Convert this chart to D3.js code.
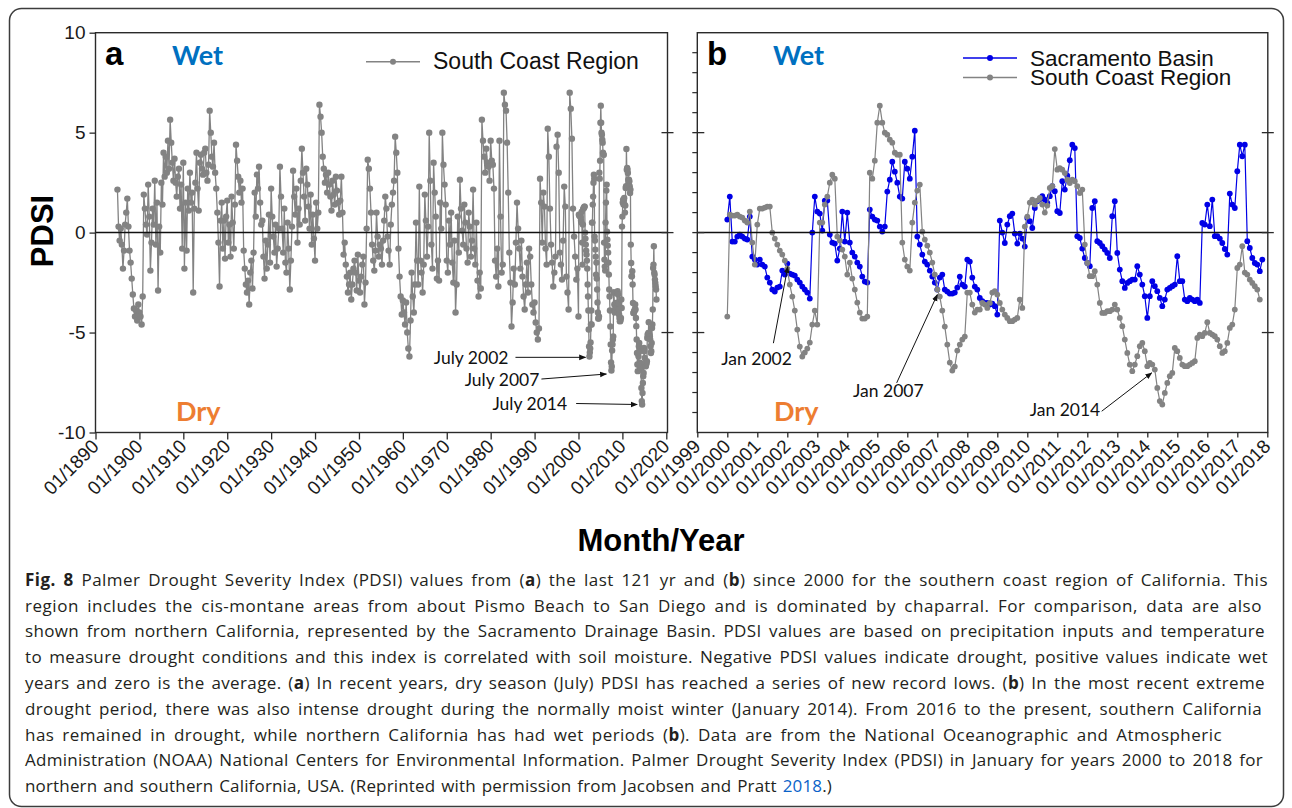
<!DOCTYPE html>
<html><head><meta charset="utf-8">
<script src="https://cdn.jsdelivr.net/npm/d3@7"></script>
<style>body{margin:0;background:#fff}svg{display:block}</style>
</head><body>
<svg id="chart" width="1292" height="808"></svg>
<script>
// ================= DATA =================
// Panel a: South Coast Region PDSI, quarterly readings (Jan, Apr, Jul, Oct) 1895-1999
const quarterlyStartYear = 1895;
const southCoastQuarterly = [
 2.15,0.3,-0.4,0.2, -0.6,-1.8,-0.9,0.4, 1.0,1.7,0.3,-0.9, -1.5,-2.3,-3.1,-3.8, -4.2,-3.9,-4.4,-3.6,
 -4.0,-4.2,-4.6,-3.2, 1.9,1.2,0.4,-0.1, 2.4,0.8,-1.9,-0.5, 1.2,0.4,2.6,-0.6, 1.5,-2.9,0.3,-1.0,
 2.5,1.4,4.0,2.8, 3.8,3.0,4.6,3.2, 5.65,4.5,3.5,2.6, 3.7,2.5,1.8,2.8, 3.2,1.2,2.4,-0.8,
 3.5,-1.8,1.5,-0.9, 2.2,1.1,3.0,1.5, 2.0,-3.0,1.2,2.5, 4.0,2.2,1.1,3.5, 3.9,3.2,2.9,4.0,
 4.2,3.0,2.6,3.4, 6.1,5.0,3.8,3.3, 4.5,3.0,2.2,1.0, -0.5,-2.7,0.6,1.5, -0.8,0.6,-1.3,0.8,
 1.6,-0.5,0.4,-1.2, 1.8,0.5,-0.8,1.4, 4.4,3.6,2.8,2.0, 2.6,1.5,2.2,-0.9, -1.8,-2.6,-3.0,-2.4,
 -3.6,-2.0,-1.4,-2.8, -1.0,2.0,0.8,2.9, 2.2,3.3,1.5,0.4, 0.6,-1.2,-2.3,-0.4, -1.8,-0.6,0.9,-1.5,
 2.2,0.8,-0.2,-1.0, 0.4,-1.7,-0.8,0.2, 3.3,1.8,0.2,-1.0, 1.2,-1.5,-2.0,0.5, -0.8,-2.85,-1.4,0.3,
 3.1,1.8,0.9,2.2, -0.5,1.2,0.4,2.6, 4.2,3.0,1.8,0.6, 3.2,2.4,1.3,0.2, 1.9,-0.6,0.9,-0.3,
 -1.4,1.5,0.2,1.0, 6.4,5.8,5.0,3.8, 3.2,2.5,2.9,2.0, 3.0,2.4,1.8,1.1, 2.6,1.9,1.4,2.8,
 2.1,1.5,0.9,1.6, 2.8,1.0,-1.1,-0.5, -1.6,-2.2,-3.0,-2.6, -2.0,-3.35,-2.6,-1.8, -1.4,-2.0,-2.9,-1.1,
 -2.4,-3.0,-2.2,-1.6, -1.2,-3.6,-2.5,0.2, 3.65,3.2,2.2,1.0, -0.6,-1.4,-1.9,-0.9, 1.0,-0.2,-1.2,-0.6,
 -0.8,-1.6,-0.4,0.6, 1.8,1.2,-0.2,-0.9, -1.6,0.4,1.4,2.0, 2.6,4.8,4.0,3.0, -0.8,-2.2,-3.2,-4.1,
 -3.4,-4.0,-4.6,-3.5, -5.0,-5.8,-6.2,-4.4, -2.0,-3.2,-4.0,-2.6, 0.5,-1.4,-2.6,2.3, -1.4,-2.0,-3.0,-1.6,
 1.9,0.6,-1.2,0.3, 5.0,2.6,-0.6,-1.8, 3.5,2.0,0.8,-2.3, -1.4,-2.4,1.5,0.2, 5.0,3.4,2.4,1.4,
 -1.4,-2.0,0.6,-0.6, 1.0,-1.5,-2.5,-0.4, -4.0,-2.6,0.8,-1.0, 2.65,1.2,0.1,-0.6, 1.4,0.5,-0.8,-1.5,
 1.0,0.3,-1.2,-0.4, 2.15,-0.8,-1.6,0.5, -2.4,-3.2,-2.0,-2.8, 5.65,4.6,3.8,3.0, 4.2,3.5,3.3,2.6,
 4.6,3.6,3.4,2.2, -1.4,-2.2,-0.8,-2.7, 4.6,0.8,-2.0,-1.6, 7.0,6.4,6.1,4.5, 2.0,-1.0,-2.5,-4.7,
 -3.5,-1.8,-2.6,-0.5, 1.5,0.2,-0.8,-1.8, -0.4,-2.2,-3.2,-3.85, -2.6,-1.5,-3.0,-0.8, -1.2,-2.6,-3.6,-4.0,
 -3.5,-4.5,-5.0,-5.35, -4.8,2.7,1.5,-0.5, 2.0,1.3,-0.8,-1.6, 5.2,3.8,1.2,-0.6, -1.5,-2.7,-2.0,-1.2,
 4.3,4.9,3.0,-1.0, -1.6,-2.35,-0.4,2.3, 1.3,-2.2,-3.0,-3.85, 7.0,6.2,4.7,1.2, -0.2,-1.2,-2.35,-1.8
];
// Monthly PDSI, Jan 2000 onward
const monthlyStartYear = 2000;
const southCoastMonthly = [
 -4.2,0.9,0.85,0.85,0.9,0.8,0.75,0.6,0.5,1.05,-0.5,-1.6,
 0.4,1.2,1.2,1.25,1.3,1.3,0.0,-0.3,-0.6,-0.9,-1.1,-1.4,
 -1.8,-2.6,-3.2,-3.9,-4.85,-5.7,-6.2,-6.0,-5.8,-5.5,-4.6,-3.9,
 -4.6,0.5,0.5,1.4,1.8,2.5,2.9,2.7,-0.2,-0.4,-0.85,-1.2,
 -2.1,-1.5,-2.3,-2.85,-3.5,-4.0,-4.3,-4.3,-4.2,3.0,2.7,3.6,
 5.5,6.35,5.5,5.0,4.9,4.65,4.5,4.0,3.9,3.9,-0.5,-1.35,
 -1.7,-1.9,0.5,1.5,2.1,2.4,0.05,-0.35,-0.65,-1.0,-1.5,-2.1,
 -2.85,-3.2,-3.9,-4.7,-5.6,-6.5,-6.9,-6.7,-5.9,-5.6,-5.35,-5.2,
 -3.0,-3.0,-3.6,-4.0,-3.85,-3.85,-3.52,-3.6,-3.77,-3.52,-3.0,-2.93,
 -3.1,-3.52,-3.85,-4.1,-4.27,-4.43,-4.43,-4.35,-4.27,-3.35,-3.77,0.3,
 0.8,1.5,1.65,1.4,1.6,1.73,1.4,1.0,1.35,2.23,2.32,4.18,
 3.15,3.23,3.15,2.98,2.65,2.48,2.65,2.57,2.32,1.98,2.15,-0.6,
 -1.52,-2.18,-2.18,-1.93,-2.6,-3.52,-4.02,-4.02,-3.93,-3.93,-3.85,-3.6,
 -3.85,-4.27,-4.68,-5.35,-6.02,-6.6,-6.93,-6.6,-6.18,-5.68,-5.52,-5.93,
 -6.68,-6.52,-6.6,-6.85,-7.77,-8.43,-8.6,-8.02,-7.52,-7.18,-7.02,-5.77,
 -5.93,-6.27,-6.6,-6.68,-6.68,-6.6,-6.52,-6.43,-5.27,-5.1,-5.18,-5.02,
 -4.48,-5.02,-5.1,-5.18,-5.35,-5.68,-6.02,-5.93,-5.52,-4.77,-4.6,-3.85,
 -1.77,-1.6,-0.68,-2.0,-2.1,-2.35,-2.52,-2.68,-2.85,-3.35
];
const sacramentoMonthly = [
 0.65,1.8,-0.45,-0.45,-0.2,-0.1,-0.2,-0.3,-0.35,0.8,-1.2,-1.35,
 -1.6,-1.35,-1.6,-1.7,-2.25,-2.5,-2.85,-2.95,-2.75,-2.7,-1.9,-2.1,
 -1.55,-2.05,-2.1,-2.15,-2.35,-2.5,-2.7,-2.85,-3.0,-3.3,0.0,1.8,
 1.05,0.95,0.1,1.6,1.6,-0.1,-0.5,-0.55,-1.4,-0.8,1.05,-0.45,
 1.0,-0.5,-1.0,-1.2,-1.5,-1.7,-2.2,-2.45,-2.5,1.15,0.8,0.65,
 0.6,0.3,0.05,0.3,2.05,2.65,3.55,3.05,2.5,1.8,1.7,3.55,
 3.2,2.7,3.8,5.1,-0.2,-0.6,-1.1,-1.45,-1.6,-1.9,-2.2,-2.5,
 -2.85,-2.25,-2.1,-2.85,-2.95,-3.05,-3.05,-3.0,-2.75,-2.2,-2.6,-2.7,
 -1.35,-1.45,-2.25,-2.7,-2.85,-3.27,-3.43,-3.52,-3.52,-3.6,-3.55,-3.68,
 -4.1,0.6,0.0,-0.52,0.4,0.82,0.95,-0.05,-0.55,-0.05,-0.3,-0.7,
 0.73,0.57,0.23,1.23,1.57,1.65,1.82,1.65,1.48,1.82,2.32,2.07,
 1.07,0.98,2.57,2.15,2.85,3.62,4.4,4.23,-0.18,-0.27,-0.8,-1.27,
 -1.52,-1.68,1.23,1.57,-0.43,-0.52,-0.68,-0.85,-1.02,-1.27,0.82,1.57,
 -1.02,-1.85,-2.43,-2.77,-2.52,-2.43,-2.35,-2.35,-1.68,-2.1,-2.6,-3.18,
 -4.27,-3.18,-2.43,-2.68,-2.93,-3.27,-3.68,-3.35,-2.85,-2.77,-2.68,-2.6,
 -1.18,-2.43,-2.43,-3.35,-3.43,-3.27,-3.35,-3.43,-3.35,-3.52,0.48,0.4,
 1.4,0.32,1.65,-0.18,-0.18,-0.3,-0.52,-0.82,-1.1,1.95,1.4,1.23,
 3.07,4.4,3.82,4.4,-0.43,-0.77,-1.27,-1.52,-1.6,-1.93,-1.35
];
// Axis ticks and labels
const panelAYears = [1890,1900,1910,1920,1930,1940,1950,1960,1970,1980,1990,2000,2010,2020];
const panelALabels = ["01/1890","01/1900","01/1910","01/1920","01/1930","01/1940","01/1950","01/1960","01/1970","01/1980","01/1990","01/2000","01/2010","01/2020"];
const panelBYears = [1999,2000,2001,2002,2003,2004,2005,2006,2007,2008,2009,2010,2011,2012,2013,2014,2015,2016,2017,2018];
const panelBLabels = ["01/1999","01/2000","01/2001","01/2002","01/2003","01/2004","01/2005","01/2006","01/2007","01/2008","01/2009","01/2010","01/2011","01/2012","01/2013","01/2014","01/2015","01/2016","01/2017","01/2018"];
const yTicks = [10,5,0,-5,-10];
const yMinorTicks = [9,8,7,6,4,3,2,1,-1,-2,-3,-4,-6,-7,-8,-9];
const yInnerTicks = [5,0,-5];
const seriesNames = ["Sacramento Basin","South Coast Region"];
const annotA = [["July 2002",2002.5,-6.24],["July 2007",2007.5,-7.05],["July 2014",2014.5,-8.6]];
const annotB = [["Jan 2002",2002.0,-1.8],["Jan 2007",2007.0,-2.85],["Jan 2014",2014.0,-6.68]];
const captionLines = [
 "**Fig. 8** Palmer Drought Severity Index (PDSI) values from (**a**) the last 121 yr and (**b**) since 2000 for the southern coast region of California. This",
 "region includes the cis-montane areas from about Pismo Beach to San Diego and is dominated by chaparral. For comparison, data are also",
 "shown from northern California, represented by the Sacramento Drainage Basin. PDSI values are based on precipitation inputs and temperature",
 "to measure drought conditions and this index is correlated with soil moisture. Negative PDSI values indicate drought, positive values indicate wet",
 "years and zero is the average. (**a**) In recent years, dry season (July) PDSI has reached a series of new record lows. (**b**) In the most recent extreme",
 "drought period, there was also intense drought during the normally moist winter (January 2014). From 2016 to the present, southern California",
 "has remained in drought, while northern California has had wet periods (**b**). Data are from the National Oceanographic and Atmospheric",
 "Administration (NOAA) National Centers for Environmental Information. Palmer Drought Severity Index (PDSI) in January for years 2000 to 2018 for",
 "northern and southern California, USA. (Reprinted with permission from Jacobsen and Pratt ##2018##.)"
];

// ================= DRAWING =================
const svg = d3.select("#chart");
const ARIAL = "'Liberation Sans', Arial, sans-serif";
const CAL = "Lato, 'Open Sans', sans-serif";
const GRAY = "#838383", BLUE = "#0000e6", INK = "#1a1a1a";

svg.append("rect").attr("width",1292).attr("height",808).attr("fill","#fff");
svg.append("rect").attr("x",9.5).attr("y",8.5).attr("width",1274).attr("height",798)
  .attr("rx",12).attr("fill","none").attr("stroke","#3c3c3c").attr("stroke-width",1.5);

const y = d3.scaleLinear().domain([-10,10]).range([432.5,32.7]);
const xA = d3.scaleLinear().domain([1890,2020]).range([95.5,666.3]);
const xB = d3.scaleLinear().domain([1999,2018]).range([697.3,1267.3]);

const seriesA = southCoastQuarterly.map((v,i)=>({t:quarterlyStartYear+i/4,v}))
  .concat(southCoastMonthly.map((v,i)=>({t:monthlyStartYear+i/12,v})));
const seriesBGray = southCoastMonthly.map((v,i)=>({t:monthlyStartYear+i/12,v}));
const seriesBBlue = sacramentoMonthly.map((v,i)=>({t:monthlyStartYear+i/12,v}));

function drawSeries(data,x,color,r,lw){
  const g = svg.append("g");
  g.append("path").datum(data)
    .attr("d",d3.line().x(d=>x(d.t)).y(d=>y(d.v)))
    .attr("fill","none").attr("stroke",color).attr("stroke-width",lw);
  g.selectAll("circle").data(data).join("circle")
    .attr("cx",d=>x(d.t)).attr("cy",d=>y(d.v)).attr("r",r).attr("fill",color);
}

function panel(x,x0,x1,years,labels,tickLen,drawData){
  drawData();
  svg.append("line").attr("x1",x0).attr("x2",x1).attr("y1",y(0)).attr("y2",y(0))
    .attr("stroke","#111").attr("stroke-width",1.5);
  svg.append("rect").attr("x",x0).attr("y",y(10)).attr("width",x1-x0).attr("height",y(-10)-y(10))
    .attr("fill","none").attr("stroke","#2a2a2a").attr("stroke-width",1.4);
  const ax = d3.axisBottom(x).tickValues(years).tickFormat((d,i)=>labels[i]).tickSize(tickLen).tickSizeOuter(0);
  const g = svg.append("g").attr("transform",`translate(0,${y(-10)})`).call(ax);
  g.select(".domain").remove();
  g.selectAll(".tick line").attr("stroke","#2a2a2a").attr("stroke-width",1.3);
  g.selectAll(".tick text").attr("y",0).attr("dy",null).attr("fill",INK)
    .attr("font-family",ARIAL).attr("font-size",19).attr("text-anchor","end")
    .attr("transform","translate(4,15) rotate(-45)");
  yInnerTicks.forEach(v=>{
    svg.append("line").attr("x1",x1-6).attr("x2",x1+6).attr("y1",y(v)).attr("y2",y(v))
      .attr("stroke","#2a2a2a").attr("stroke-width",1.3);
  });
}

// Panel a
panel(xA,95.5,667.5,panelAYears,panelALabels,7,()=>drawSeries(seriesA,xA,GRAY,3.2,1.3));
const gyA = svg.append("g").attr("transform",`translate(95.5,0)`)
  .call(d3.axisLeft(y).tickValues(yTicks).tickFormat(d=>String(d)).tickSize(6).tickPadding(4).tickSizeOuter(0));
gyA.select(".domain").remove();
gyA.selectAll(".tick line").attr("stroke","#2a2a2a").attr("stroke-width",1.3);
gyA.selectAll(".tick text").attr("font-family",ARIAL).attr("font-size",19).attr("fill",INK);

// Panel b
panel(xB,697.3,1267.8,panelBYears,panelBLabels,5,()=>{
  drawSeries(seriesBBlue,xB,BLUE,2.9,1.2);
  drawSeries(seriesBGray,xB,GRAY,2.9,1.2);
});
yMinorTicks.forEach(v=>{
  svg.append("line").attr("x1",697.3-5).attr("x2",697.3).attr("y1",y(v)).attr("y2",y(v))
    .attr("stroke","#2a2a2a").attr("stroke-width",1.2);
});
yInnerTicks.forEach(v=>{
  svg.append("line").attr("x1",697.3-5).attr("x2",697.3+7).attr("y1",y(v)).attr("y2",y(v))
    .attr("stroke","#2a2a2a").attr("stroke-width",1.3);
});

function txt(x,yy,s,size,weight,fill,family,anchor){
  return svg.append("text").attr("x",x).attr("y",yy).text(s).attr("font-size",size)
    .attr("font-weight",weight).attr("fill",fill).attr("font-family",family).attr("text-anchor",anchor||"start");
}
txt(105,65,"a",33,"bold","#000",ARIAL);
txt(707,65,"b",33,"bold","#000",ARIAL);
txt(172,65,"Wet",27,"bold","#0070c0",CAL);
txt(773,65,"Wet",27,"bold","#0070c0",CAL);
txt(176,421,"Dry",27,"bold","#ed7d31",CAL);
txt(774,421,"Dry",27,"bold","#ed7d31",CAL);

// legends
function legendItem(x0,yy,color,label,fs){
  svg.append("line").attr("x1",x0).attr("x2",x0+54).attr("y1",yy).attr("y2",yy).attr("stroke",color).attr("stroke-width",1.6);
  svg.append("circle").attr("cx",x0+27).attr("cy",yy).attr("r",3).attr("fill",color);
  txt(x0+67,yy+7.5,label,fs,"normal","#111",ARIAL);
}
legendItem(366,61.7,GRAY,seriesNames[1],23);
legendItem(963,58.0,BLUE,seriesNames[0],22.5);
legendItem(963,77.5,GRAY,seriesNames[1],22.5);

// axis titles
txt(0,0,"PDSI",31,"bold","#000",ARIAL,"middle").attr("transform","translate(53,231) rotate(-90)");
txt(661,551,"Month/Year",31,"bold","#000",ARIAL,"middle");

// annotations
const defs = svg.append("defs");
defs.append("marker").attr("id","ah").attr("viewBox","0 0 10 10").attr("refX",9).attr("refY",5)
  .attr("markerWidth",7).attr("markerHeight",7).attr("orient","auto-start-reverse")
  .append("path").attr("d","M0,1 L10,5 L0,9 Z").attr("fill","#111");
function arrow(x1,y1,x2,y2){
  svg.append("line").attr("x1",x1).attr("y1",y1).attr("x2",x2).attr("y2",y2)
    .attr("stroke","#111").attr("stroke-width",1).attr("marker-end","url(#ah)");
}
const aLayout = [{dx:-4,dy:0,sx:-70,sy:0,tx:-77,ty:6.5},{dx:-5,dy:0.5,sx:-65,sy:5,tx:-67,ty:12},{dx:-5,dy:0,sx:-61,sy:-1,tx:-70,ty:5}];
annotA.forEach((a,i)=>{
  const L=aLayout[i]; const tx=xA(a[1])+L.dx, ty=y(a[2])+L.dy;
  arrow(tx+L.sx,ty+L.sy,tx,ty);
  txt(tx+L.tx,ty+L.ty,a[0],17.5,"normal","#111",CAL,"end");
});
const bLayout = [{dx:0.5,dy:-2,sx:-14.4,sy:76.6,tx:-66.5,ty:98},{dx:0,dy:5,sx:-40.6,sy:88.3,tx:-84.3,ty:102},{dx:4.4,dy:6.7,sx:-50,sy:38.4,tx:-122,ty:42.7}];
annotB.forEach((a,i)=>{
  const L=bLayout[i]; const tx=xB(a[1])+L.dx, ty=y(a[2])+L.dy;
  arrow(tx+L.sx,ty+L.sy,tx,ty);
  txt(tx+L.tx,ty+L.ty,a[0],17.5,"normal","#111",CAL,"start");
});

// caption (line breaks as in the figure)
const lineEnds = [1268,1262,1265,1268,1265,1262,1222,1263,832];
captionLines.forEach((line,k)=>{
  const t = svg.append("text").attr("x",25).attr("y",585.7+25.8*k)
    .attr("font-family","'Open Sans', sans-serif").attr("font-size",17).attr("fill","#231f20");
  line.split(/(\*\*[^*]+\*\*|##[^#]+##)/).filter(s=>s.length).forEach(s=>{
    if(s.startsWith("**")) t.append("tspan").attr("font-weight","bold").text(s.slice(2,-2));
    else if(s.startsWith("##")) t.append("tspan").attr("fill","#0a63c9").text(s.slice(2,-2));
    else t.append("tspan").text(s);
  });
  const plain = line.replace(/\*\*|##/g,"");
  const target = lineEnds[k]-25;
  let w = t.node().getComputedTextLength();
  const ls = 0.5*(target-w)/plain.length;
  t.attr("letter-spacing",ls.toFixed(3));
  w = t.node().getComputedTextLength();
  const spaces = (plain.match(/ /g)||[]).length;
  t.attr("word-spacing",((target-w)/spaces).toFixed(3));
});
</script>
</body></html>
